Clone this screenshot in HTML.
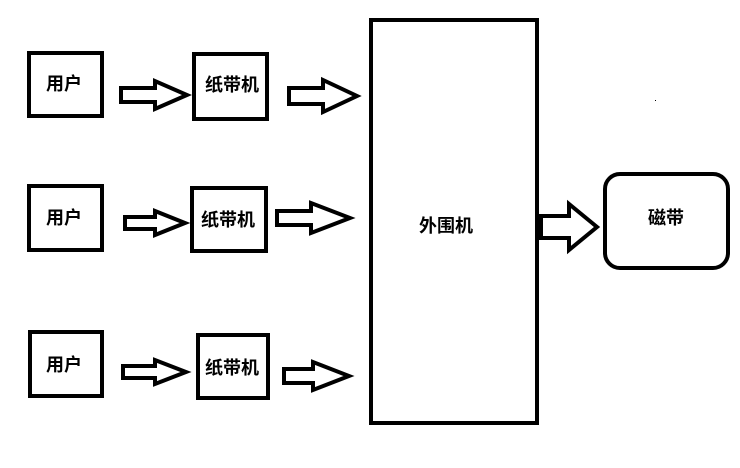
<!DOCTYPE html>
<html><head><meta charset="utf-8"><style>
html,body{margin:0;padding:0;background:#fff;}
svg{display:block;}
text{font-family:"Liberation Sans","Noto Sans CJK SC",sans-serif;font-weight:bold;font-size:18px;fill:#000;}
</style></head><body>
<svg width="740" height="468" viewBox="0 0 740 468" xmlns="http://www.w3.org/2000/svg">
<g fill="none" stroke="#000" stroke-width="4" stroke-linejoin="miter">
<rect x="29" y="53" width="73" height="63"/>
<rect x="194" y="54" width="73" height="65"/>
<rect x="29" y="186" width="73" height="64"/>
<rect x="192" y="188" width="74" height="63"/>
<rect x="30" y="332" width="72" height="64"/>
<rect x="198" y="335" width="70" height="63"/>
<rect x="371" y="20" width="166" height="403"/>
<rect x="605" y="174" width="123" height="94" rx="15"/>
<polygon points="121,88 155,88 155,81 187,95 155,109 155,102 121,102"/>
<polygon points="289,88 323,88 323,80 357,96 323,112 323,104 289,104"/>
<polygon points="125,217 155,217 155,211 185,223 155,235 155,229 125,229"/>
<polygon points="277,211 311,211 311,203 350,218 311,233 311,225 277,225"/>
<polygon points="123,366 155,366 155,360 186,372 155,384 155,378 123,378"/>
<polygon points="284,369 313,369 313,362 349,376 313,390 313,383 284,383"/>
<polygon points="541,216 569,216 569,204 597,227 569,250 569,238 541,238"/>
</g>
<rect x="655" y="100" width="1" height="1" fill="#000"/>
<text x="46" y="90">用户</text>
<text x="205" y="91">纸带机</text>
<text x="46" y="224">用户</text>
<text x="201" y="226">纸带机</text>
<text x="46" y="371">用户</text>
<text x="205" y="374">纸带机</text>
<text x="419" y="232">外围机</text>
<text x="648" y="224">磁带</text>
</svg>
</body></html>
